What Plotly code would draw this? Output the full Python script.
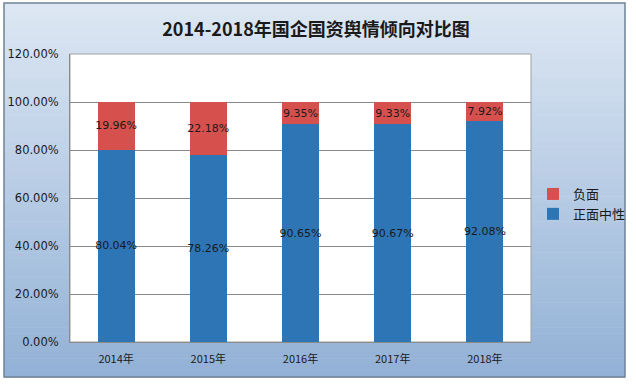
import plotly.graph_objects as go

categories = ["2014年", "2015年", "2016年", "2017年", "2018年"]
positive_neutral = [0.8004, 0.7826, 0.9065, 0.9067, 0.9208]
negative = [0.1996, 0.2218, 0.0935, 0.0933, 0.0792]
y_ticks = [0, 0.2, 0.4, 0.6, 0.8, 1.0, 1.2]

W, H = 636, 384
L, R, T, B = 70, 531, 54, 342

def px(x):
    return (x - L) / (R - L)

def py(y):
    return (B - y) / (B - T)

fig = go.Figure()
fig.add_trace(go.Bar(
    x=categories, y=positive_neutral, name="正面中性",
    marker=dict(color="#2e75b6", line=dict(width=0)),
    text=[f"{v*100:.2f}%" for v in positive_neutral],
    textposition="inside", insidetextanchor="middle", constraintext="none", textangle=0,
    textfont=dict(color="#1a1a1a", size=11, family="DejaVu Sans"),
    cliponaxis=False,
))
fig.add_trace(go.Bar(
    x=categories, y=negative, name="负面",
    marker=dict(color="#d6514d", line=dict(width=0)),
    text=[f"{v*100:.2f}%" for v in negative],
    textposition="inside", insidetextanchor="middle", constraintext="none", textangle=0,
    textfont=dict(color="#1a1a1a", size=11, family="DejaVu Sans"),
    cliponaxis=False,
))

shapes = []
top_c = (221, 231, 243)
bot_c = (146, 177, 214)
y0p, y1p = 3, 377
N = 60
for i in range(N):
    a = y0p + (y1p - y0p) * i / N
    b = y0p + (y1p - y0p) * (i + 1) / N
    t = (i + 0.5) / N
    c = tuple(int(round(top_c[k] + (bot_c[k] - top_c[k]) * t)) for k in range(3))
    shapes.append(dict(type="rect", xref="paper", yref="paper", layer="below",
                       x0=px(4), x1=px(625), y0=py(b + 0.5), y1=py(a),
                       fillcolor=f"rgb{c}", line=dict(width=0)))
shapes.append(dict(type="rect", xref="paper", yref="paper", layer="below",
                   x0=0, x1=1, y0=0, y1=1, fillcolor="white",
                   line=dict(color="#a0a0a0", width=1)))
shapes.append(dict(type="rect", xref="paper", yref="paper", layer="above",
                   x0=px(4), x1=px(625), y0=py(377), y1=py(3),
                   fillcolor="rgba(0,0,0,0)", line=dict(color="#6f8296", width=1.5)))

fig.update_layout(
    width=W, height=H,
    margin=dict(l=L, r=W - R, t=T, b=H - B, pad=0, autoexpand=False),
    paper_bgcolor="white", plot_bgcolor="rgba(0,0,0,0)",
    barmode="stack", barnorm="fraction", bargap=0.6,
    shapes=shapes,
    title=dict(text="<b>2014-2018年国企国资舆情倾向对比图</b>", x=316 / W, xanchor="center",
               y=1 - 30 / H, yanchor="middle",
               font=dict(size=18, color="#1a1a1a", family="Noto Sans CJK SC")),
    font=dict(family="DejaVu Sans", color="#1a1a1a", size=11),
    legend=dict(x=px(533), y=py(179), xanchor="left", yanchor="top",
                bgcolor="rgba(0,0,0,0)", font=dict(size=13, family="Noto Sans CJK SC"),
                itemwidth=30, tracegroupgap=0),
    xaxis=dict(showgrid=False, showline=True, linecolor="#8a8a8a", linewidth=1,
               ticks="", tickfont=dict(size=11, family="Noto Sans CJK SC", color="#1a1a1a"),
               ticklabelstandoff=7),
    yaxis=dict(range=[0, 1.2], tickvals=y_ticks, tickformat=".2%",
               showgrid=True, gridcolor="#8a8a8a", gridwidth=1,
               showline=True, linecolor="#8a8a8a", linewidth=1,
               ticks="", ticklabelstandoff=8,
               tickfont=dict(size=11.5, family="DejaVu Sans", color="#1a1a1a"),
               zeroline=False),
)

fig.write_html("out.html", config={"displayModeBar": False},
               post_script="document.body.style.margin='0';")
